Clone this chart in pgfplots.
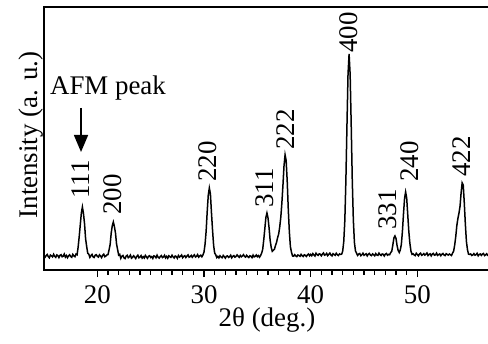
\documentclass[border=0pt]{standalone}
\usepackage{pgfplots}
\pgfplotsset{compat=1.18}
\usepackage{fontspec}
\setmainfont{Liberation Serif}
\usetikzlibrary{arrows.meta}
\newcommand{\bigf}{\fontsize{27}{31}\selectfont}
\begin{document}
\begin{tikzpicture}
\useasboundingbox (-44bp,-74bp) rectangle (444bp,270bp);
\begin{axis}[
  at={(0,0)}, anchor=south west,
  scale only axis, width=446bp, height=263bp,
  xmin=15, xmax=56.81, ymin=0, ymax=263,
  xtick={20,30,40,50}, minor x tick num=9,
  ytick=\empty,
  xtick pos=left, tick align=outside,
  major tick length=7bp, minor tick length=4.5bp,
  every tick/.style={black, line width=1.6bp},
  axis line style={line width=2.4bp},
  /pgf/number format/assume math mode=true,
  xticklabel style={font=\bigf, anchor=base, yshift=-26bp},
]
\addplot[black, line width=1.5bp] coordinates {
(15.0,14.8) (15.1,12.8) (15.2,14.3) (15.3,15.5) (15.4,13.4) (15.5,12.2) (15.6,14.9) (15.7,14.1) (15.8,13.1) (15.9,15.7)
(16.0,13.7) (16.1,12.6) (16.2,15.1) (16.3,14.4) (16.4,12.4) (16.5,14.7) (16.6,15.3) (16.7,13.2) (16.8,13.8) (16.9,15.9)
(17.0,12.9) (17.1,14.5) (17.2,12.3) (17.3,14.2) (17.4,15.2) (17.5,13.5) (17.6,12.7) (17.7,15.6) (17.8,14.0) (17.9,13.3)
(18.0,15.9) (18.1,15.2) (18.2,22.9) (18.3,33.4) (18.4,45.0) (18.5,56.9) (18.6,63.0) (18.7,56.4) (18.8,46.3) (18.9,31.2)
(19.0,23.5) (19.1,16.8) (19.2,15.8) (19.3,12.6) (19.4,14.4) (19.5,15.6) (19.6,13.1) (19.7,12.5) (19.8,14.8) (19.9,15.3)
(20.0,13.6) (20.1,12.9) (20.2,15.2) (20.3,14.1) (20.4,12.4) (20.5,14.6) (20.6,15.8) (20.7,13.3) (20.8,13.9) (20.9,15.1)
(21.0,15.4) (21.1,20.2) (21.2,25.5) (21.3,36.9) (21.4,44.2) (21.5,48.0) (21.6,43.5) (21.7,37.1) (21.8,26.1) (21.9,20.5)
(22.0,14.9) (22.1,15.6) (22.2,11.6) (22.3,13.8) (22.4,14.5) (22.5,12.1) (22.6,11.4) (22.7,13.9) (22.8,14.7) (22.9,12.3)
(23.0,13.2) (23.1,14.9) (23.2,11.8) (23.3,12.6) (23.4,14.2) (23.5,13.0) (23.6,11.5) (23.7,13.6) (23.8,14.8) (23.9,12.2)
(24.0,12.9) (24.1,14.4) (24.2,11.9) (24.3,13.3) (24.4,12.0) (24.5,14.6) (24.6,13.1) (24.7,11.7) (24.8,13.8) (24.9,14.3)
(25.0,12.5) (25.1,13.4) (25.2,11.6) (25.3,14.1) (25.4,13.7) (25.5,12.2) (25.6,14.9) (25.7,12.8) (25.8,11.9) (25.9,13.5)
(26.0,14.4) (26.1,12.4) (26.2,13.0) (26.3,14.7) (26.4,12.1) (26.5,13.6) (26.6,11.8) (26.7,14.2) (26.8,13.3) (26.9,12.6)
(27.0,14.8) (27.1,13.1) (27.2,12.0) (27.3,14.0) (27.4,13.5) (27.5,11.7) (27.6,14.5) (27.7,12.9) (27.8,13.8) (27.9,15.0)
(28.0,12.3) (28.1,13.6) (28.2,14.3) (28.3,12.5) (28.4,13.9) (28.5,15.1) (28.6,12.8) (28.7,13.4) (28.8,14.6) (28.9,12.7)
(29.0,14.1) (29.1,15.2) (29.2,13.0) (29.3,13.7) (29.4,15.4) (29.5,12.9) (29.6,14.0) (29.7,14.8) (29.8,13.2) (29.9,15.0)
(30.0,18.1) (30.1,25.9) (30.2,38.9) (30.3,58.6) (30.4,74.9) (30.5,82.0) (30.6,76.1) (30.7,57.1) (30.8,40.0) (30.9,24.7)
(31.0,16.9) (31.1,15.2) (31.2,12.4) (31.3,13.6) (31.4,12.1) (31.5,14.2) (31.6,13.0) (31.7,12.3) (31.8,14.5) (31.9,13.4)
(32.0,11.9) (32.1,13.8) (32.2,14.1) (32.3,12.6) (32.4,13.3) (32.5,14.8) (32.6,12.2) (32.7,13.7) (32.8,14.4) (32.9,12.8)
(33.0,13.5) (33.1,15.1) (33.2,13.9) (33.3,12.7) (33.4,14.6) (33.5,13.2) (33.6,14.0) (33.7,15.3) (33.8,13.6) (33.9,12.9)
(34.0,14.7) (34.1,13.4) (34.2,12.5) (34.3,14.2) (34.4,13.8) (34.5,12.4) (34.6,14.9) (34.7,13.1) (34.8,13.7) (34.9,15.0)
(35.0,13.3) (35.1,14.4) (35.2,12.8) (35.3,14.4) (35.4,16.8) (35.5,20.5) (35.6,30.1) (35.7,41.1) (35.8,52.5) (35.9,57.0)
(36.0,52.1) (36.1,42.1) (36.2,29.7) (36.3,22.6) (36.4,18.7) (36.5,19.8) (36.6,20.7) (36.7,24.5) (36.8,27.6) (36.9,32.4)
(37.0,36.0) (37.1,43.2) (37.2,52.9) (37.3,67.1) (37.4,84.8) (37.5,104.1) (37.6,115.2) (37.7,109.5) (37.8,88.8) (37.9,60.7)
(38.0,38.2) (38.1,23.1) (38.2,17.8) (38.3,14.0) (38.4,13.8) (38.5,15.3) (38.6,14.1) (38.7,13.4) (38.8,15.0) (38.9,14.5)
(39.0,13.7) (39.1,15.6) (39.2,14.3) (39.3,13.5) (39.4,15.2) (39.5,14.7) (39.6,13.6) (39.7,15.1) (39.8,16.0) (39.9,14.2)
(40.0,15.6) (40.1,14.3) (40.2,16.4) (40.3,15.1) (40.4,14.0) (40.5,16.8) (40.6,15.4) (40.7,14.6) (40.8,16.2) (40.9,15.8)
(41.0,14.2) (41.1,15.9) (41.2,17.0) (41.3,14.8) (41.4,15.3) (41.5,16.6) (41.6,14.4) (41.7,15.7) (41.8,16.9) (41.9,15.0)
(42.0,14.1) (42.1,16.3) (42.2,15.5) (42.3,14.7) (42.4,16.7) (42.5,15.2) (42.6,14.5) (42.7,16.1) (42.8,15.6) (42.9,15.8)
(43.0,18.8) (43.1,28.4) (43.2,49.2) (43.3,89.5) (43.4,144.1) (43.5,195.6) (43.6,216.0) (43.7,195.3) (43.8,144.6) (43.9,89.1)
(44.0,49.8) (44.1,27.5) (44.2,19.1) (44.3,16.8) (44.4,14.6) (44.5,15.9) (44.6,16.5) (44.7,14.3) (44.8,15.2) (44.9,16.8)
(45.0,14.7) (45.1,15.5) (45.2,16.2) (45.3,14.1) (45.4,15.8) (45.5,16.6) (45.6,14.9) (45.7,14.4) (45.8,16.1) (45.9,15.3)
(46.0,14.2) (46.1,16.4) (46.2,15.0) (46.3,14.6) (46.4,16.9) (46.5,15.4) (46.6,14.5) (46.7,16.0) (46.8,15.7) (46.9,14.0)
(47.0,15.9) (47.1,16.5) (47.2,14.8) (47.3,15.6) (47.4,15.3) (47.5,17.4) (47.6,18.7) (47.7,24.9) (47.8,31.9) (47.9,34.0)
(48.0,31.5) (48.1,24.3) (48.2,19.6) (48.3,17.5) (48.4,20.0) (48.5,25.6) (48.6,38.6) (48.7,56.1) (48.8,71.5) (48.9,78.0)
(49.0,72.0) (49.1,55.2) (49.2,38.5) (49.3,26.6) (49.4,18.9) (49.5,15.7) (49.6,16.3) (49.7,15.1) (49.8,14.4) (49.9,16.7)
(50.0,15.5) (50.1,14.2) (50.2,16.0) (50.3,16.8) (50.4,14.7) (50.5,15.3) (50.6,16.4) (50.7,14.9) (50.8,15.8) (50.9,17.0)
(51.0,14.5) (51.1,15.6) (51.2,16.2) (51.3,14.1) (51.4,15.9) (51.5,16.6) (51.6,14.8) (51.7,15.2) (51.8,16.9) (51.9,14.6)
(52.0,15.4) (52.1,16.1) (52.2,14.3) (52.3,15.7) (52.4,16.5) (52.5,15.0) (52.6,14.4) (52.7,16.3) (52.8,15.6) (52.9,14.9)
(53.0,16.0) (53.1,15.3) (53.2,14.5) (53.3,16.9) (53.4,18.8) (53.5,25.0) (53.6,33.4) (53.7,44.4) (53.8,51.5) (53.9,56.8)
(54.0,63.7) (54.1,76.9) (54.2,87.2) (54.3,85.1) (54.4,67.0) (54.5,45.8) (54.6,28.4) (54.7,20.2) (54.8,15.8) (54.9,15.6)
(55.0,16.1) (55.1,14.5) (55.2,15.0) (55.3,16.4) (55.4,14.8) (55.5,15.3) (55.6,16.7) (55.7,14.2) (55.8,15.6) (55.9,16.0)
(56.0,14.6) (56.1,15.9) (56.2,16.5) (56.3,14.4) (56.4,15.1) (56.5,16.2) (56.6,14.7) (56.7,15.5) (56.8,16.3)
};
\begin{scope}[every node/.style={font=\bigf, rotate=90, anchor=west, inner sep=0pt}]
\node at (axis cs:18.47,71) {111};
\node at (axis cs:21.47,55) {200};
\node at (axis cs:30.33,88) {220};
\node at (axis cs:35.72,62) {311};
\node at (axis cs:37.69,120) {222};
\node at (axis cs:43.59,217) {400};
\node at (axis cs:47.25,40) {331};
\node at (axis cs:49.31,88) {240};
\node at (axis cs:54.19,93) {422};
\end{scope}
\node[font=\bigf, anchor=base, inner sep=0pt] at (axis cs:21.0,175) {AFM peak};
\draw[-{Triangle[width=14bp,length=17bp]}, line width=1.6bp] (axis cs:18.47,162) -- (axis cs:18.47,118);
\end{axis}
\node[font=\bigf, rotate=90, anchor=base, inner sep=0pt] at (-7bp,135bp) {Intensity (a. u.)};
\node[font=\bigf, anchor=base, inner sep=0pt] at (223bp,-56bp) {2θ (deg.)};
\end{tikzpicture}
\end{document}
